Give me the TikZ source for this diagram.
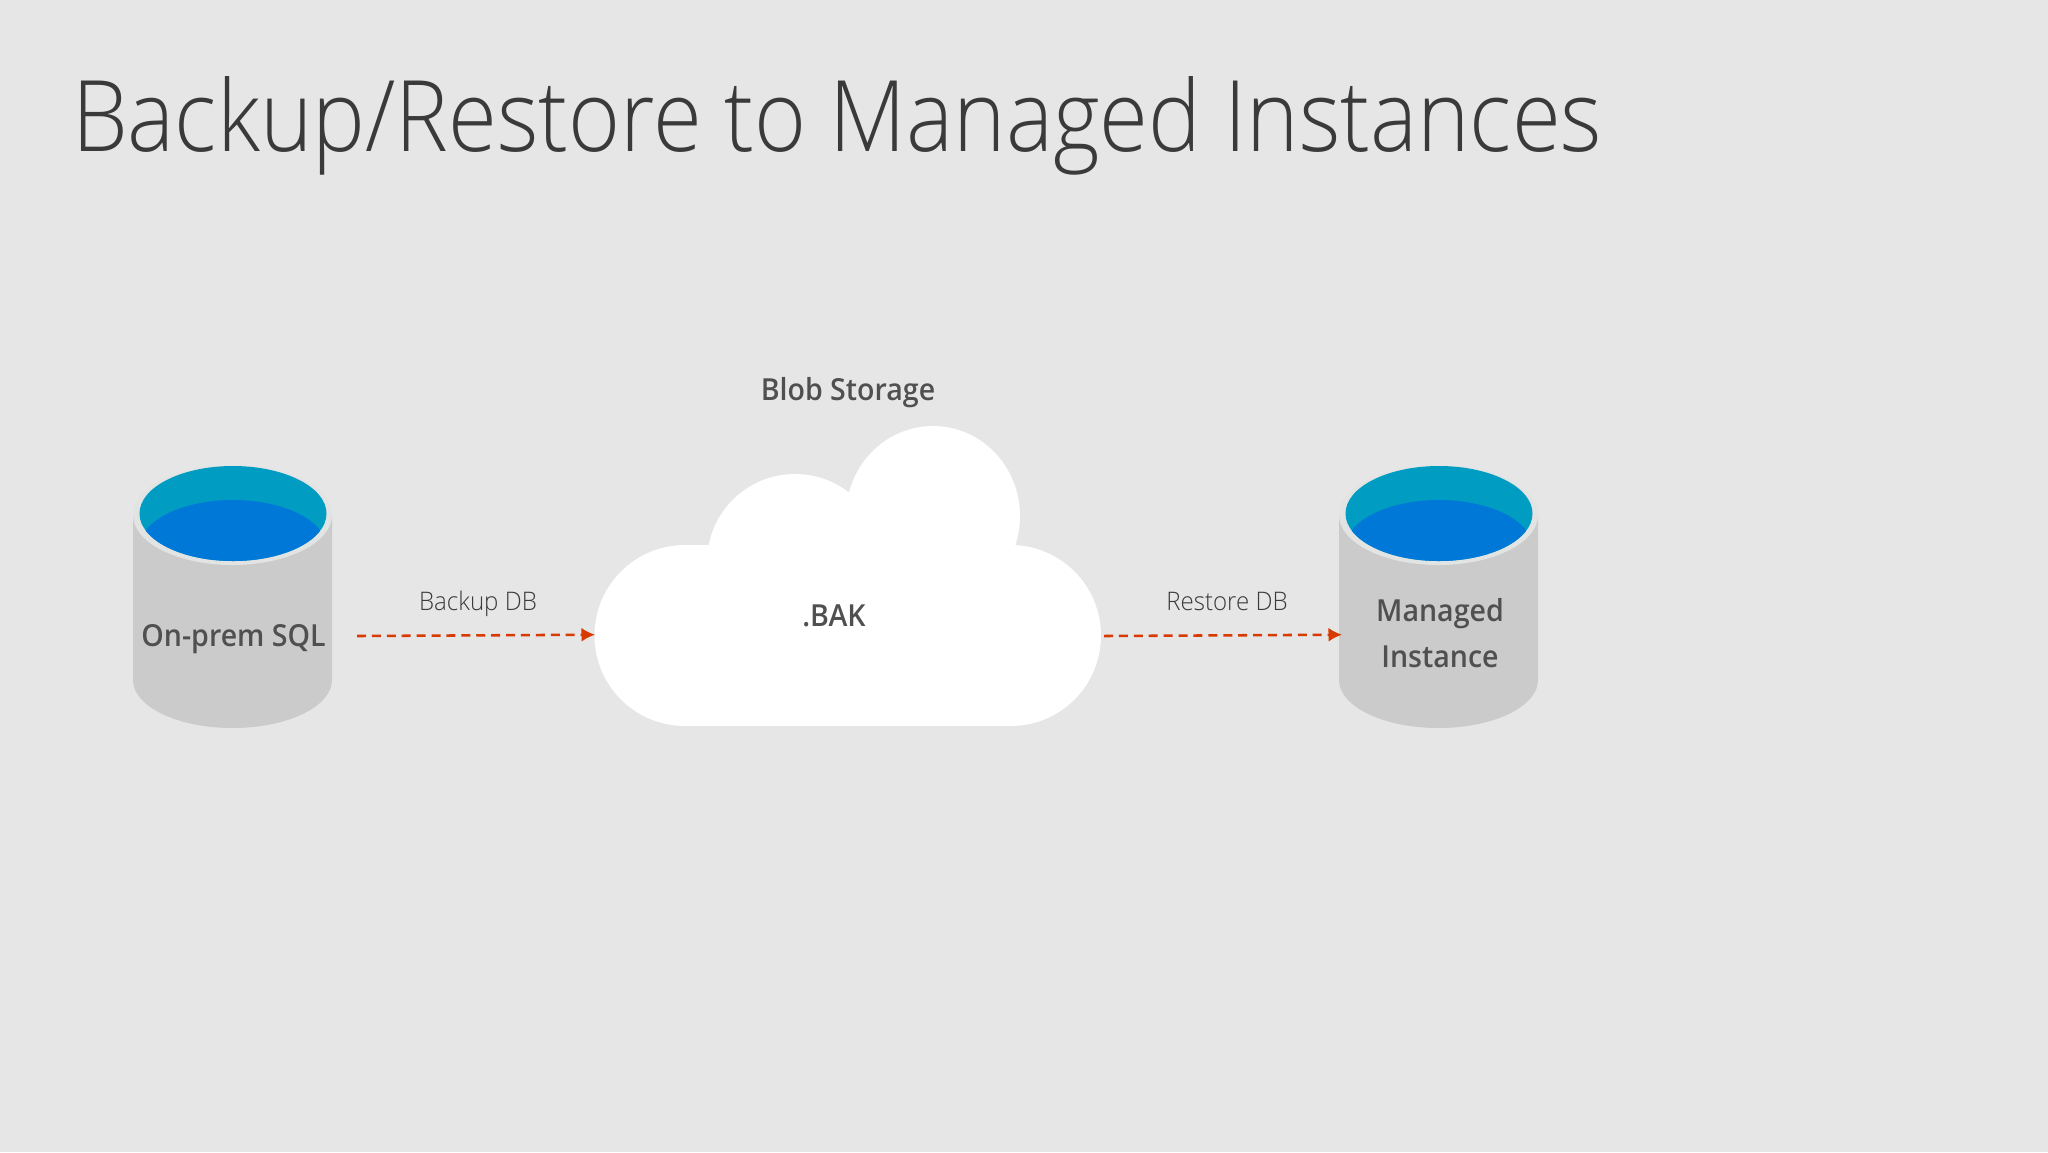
\documentclass[tikz,border=0pt]{standalone}
\usepackage{fontspec}
\setmainfont{Open Sans}
\newfontfamily\titrefont[FakeStretch=0.9]{Open Sans Light}
\newfontfamily\finfont[FakeStretch=0.94]{Open Sans Light}
\newfontfamily\grasfont[FakeStretch=0.94]{Open Sans Semibold}
\usepackage{tikz}
\usetikzlibrary{arrows.meta,positioning,calc}
\definecolor{fond}{HTML}{E6E6E7}
\definecolor{corps}{HTML}{CBCBCB}
\definecolor{rebord}{HTML}{E2E3E3}
\definecolor{bassin}{HTML}{009CC1}
\definecolor{eau}{HTML}{0078D7}
\definecolor{fleche}{HTML}{D83B01}
\definecolor{encre}{HTML}{505050}
\definecolor{titre}{HTML}{3A3A3A}
\begin{document}
\begin{tikzpicture}[x=0.0125cm,y=-0.0125cm]
\tikzstyle{lien}=[-{Latex[length=4.8pt,width=5pt]},draw=fleche,line width=0.9pt,dash pattern=on 3.2pt off 2.1pt]
\tikzstyle{gras}=[text=encre,font={\grasfont\fontsize{10.8}{13}\selectfont},inner sep=0pt,anchor=base]
\tikzstyle{fin}=[text=titre,font={\finfont\fontsize{9.1}{12}\selectfont},inner sep=0pt,anchor=base]
\def\RayonCuve{99.5}
\fill[fond] (0,0) rectangle (2048,1152);
% cylinders
\foreach \Xc in {232.5,1438.5}{
\fill[corps] (\Xc-\RayonCuve,515) -- (\Xc-\RayonCuve,680) arc[start angle=180,end angle=0,x radius=\RayonCuve,y radius=48] -- (\Xc+\RayonCuve,515) -- cycle;
\fill[rebord] (\Xc,515) ellipse[x radius=\RayonCuve,y radius=50];
\fill[bassin] (\Xc+0.5,513.5) ellipse[x radius=93.5,y radius=47.5];
\begin{scope}
\clip (\Xc+0.5,513.5) ellipse[x radius=93.5,y radius=47.5];
\fill[eau] (\Xc+0.5,547.5) ellipse[x radius=93.5,y radius=47.5];
\end{scope}
}
% cloud
\fill[white] (685,635.5) circle[radius=90.5];
\fill[white] (1010.5,635.5) circle[radius=90.5];
\fill[white] (795,562) circle[radius=88];
\fill[white] (933,516) ellipse[x radius=87,y radius=90];
\fill[white] (685,545) rectangle (1010.5,726);
\node[gras] (Blob) at (848,400) {Blob Storage};
\node[gras] (Bak) at (834,626) {.BAK};
\node[gras] (Onprem) at (233.5,646) {On-prem SQL};
\node[gras] (Managed) at (1440,621.5) {Managed};
\node[gras] (Instance) at (1440,667) {Instance};
\node[fin] (Backup) at (478,610) {Backup DB};
\node[fin] (Restore) at (1227,610) {Restore DB};
\node[text=titre,font={\titrefont\fontsize{35.1}{44}\selectfont},inner sep=0pt,anchor=base west] (Titre) at (71.5,151.5) {Backup/Restore to Managed Instances};
\coordinate (BackupA) at (357,636);
\coordinate (BackupB) at (595,634.7);
\coordinate (RestoreA) at (1104,636);
\coordinate (RestoreB) at (1342,634.7);
\draw[lien] (BackupA)--(BackupB);
\draw[lien] (RestoreA)--(RestoreB);
\end{tikzpicture}
\end{document}
